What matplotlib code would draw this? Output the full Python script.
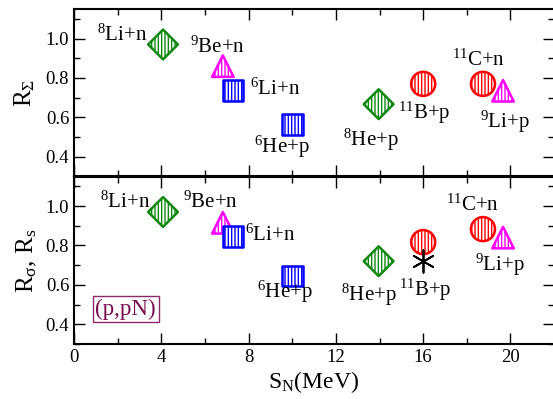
import matplotlib
matplotlib.use("Agg")
import matplotlib.pyplot as plt
from matplotlib.ticker import MultipleLocator

plt.rcParams["font.family"] = ["Liberation Serif", "DejaVu Serif"]
plt.rcParams["mathtext.fontset"] = "custom"
plt.rcParams["mathtext.rm"] = "Liberation Serif"
plt.rcParams["mathtext.it"] = "Liberation Serif:italic"
plt.rcParams["mathtext.default"] = "rm"

# data: separation energy S_N (MeV) and ratios
reactions = ["8Li+n", "9Be+n", "6Li+n", "6He+p", "8He+p", "11B+p", "11C+n", "9Li+p"]
labels = [r"$^{8}$Li+n", r"$^{9}$Be+n", r"$^{6}$Li+n", r"$^{6}$He+p",
          r"$^{8}$He+p", r"$^{11}$B+p", r"$^{11}$C+n", r"$^{9}$Li+p"]
s_n = [4.08, 6.82, 7.28, 10.0, 13.96, 16.0, 18.74, 19.66]
r_sigma_top = [0.97, 0.86, 0.735, 0.565, 0.667, 0.77, 0.77, 0.735]
r_sigma_bot = [0.97, 0.915, 0.845, 0.646, 0.72, 0.817, 0.883, 0.84]
r_s_x = [16.0]
r_s = [0.72]

# styles
green = "#118811"
blue = "#0000ff"
magenta = "#ff00ff"
red = "#ff0000"
marker_style = {
    "8Li+n": ("D", green, 230),
    "9Be+n": ("^", magenta, 240),
    "6Li+n": ("s", blue, 220),
    "6He+p": ("s", blue, 220),
    "8He+p": ("D", green, 230),
    "11B+p": ("o", red, 300),
    "11C+n": ("o", red, 300),
    "9Li+p": ("^", magenta, 240),
}

# label positions (data coords), left/center aligned
pos_top = [(1.05, 1.017), (5.33, 0.956), (8.05, 0.743), (8.23, 0.45),
           (12.31, 0.485), (14.84, 0.622), (17.33, 0.89), (18.62, 0.576)]
pos_bot = [(1.2, 1.022), (5.01, 1.022), (7.82, 0.853), (8.37, 0.563),
           (12.23, 0.548), (14.9, 0.574), (17.06, 1.005), (18.39, 0.70)]

fig = plt.figure(figsize=(5.53, 3.99), dpi=100)
ax1 = fig.add_axes([74 / 553, 1 - 176.5 / 399, 1.002 - 74 / 553, 167.5 / 399])
ax2 = fig.add_axes([74 / 553, 1 - 344 / 399, 1.002 - 74 / 553, 167.5 / 399], sharex=ax1)


def draw_panel(ax, yvals, positions):
    for name, lab, x, y, (tx, ty) in zip(reactions, labels, s_n, yvals, positions):
        m, c, size = marker_style[name]
        with plt.rc_context({"hatch.color": c, "hatch.linewidth": 1.0}):
            ax.scatter([x], [y], marker=m, s=size, facecolor="white",
                       edgecolor=c, linewidth=1.8, hatch="|||||", zorder=3)
        ax.text(tx, ty, lab, fontsize=15, ha="left", va="center")


draw_panel(ax1, r_sigma_top, pos_top)
draw_panel(ax2, r_sigma_bot, pos_bot)
ax2.scatter(r_s_x, r_s, marker=(6, 2, 0), s=260, color="black", linewidth=1.3, zorder=4)

ax2.text(2.37, 0.477, "(p,pN)", fontsize=16.5, color="#7a0a4e", ha="center", va="center",
         bbox=dict(boxstyle="square,pad=0.12", facecolor="white", edgecolor="#8a2a6a", linewidth=1.0))

for ax in (ax1, ax2):
    ax.set_xlim(0, 22)
    ax.set_ylim(0.3, 1.15)
    ax.xaxis.set_major_locator(MultipleLocator(4))
    ax.xaxis.set_minor_locator(MultipleLocator(2))
    ax.yaxis.set_major_locator(MultipleLocator(0.2))
    ax.yaxis.set_minor_locator(MultipleLocator(0.1))
    ax.tick_params(which="both", direction="in", top=True, right=True, labelsize=13.5, width=1.0)
    ax.tick_params(which="major", length=8)
    ax.tick_params(which="minor", length=4)
    for sp in ax.spines.values():
        sp.set_linewidth(1.5)
    ax.yaxis.set_major_formatter(plt.FuncFormatter(lambda v, p: f"{v:.1f}"))

ax1.tick_params(labelbottom=False)
ax1.set_ylabel(r"R$_\Sigma$", fontsize=18, labelpad=6)
ax2.set_ylabel(r"R$_\sigma$, R$_s$", fontsize=18, labelpad=5)
ax2.set_xlabel(r"S$_\mathrm{N}$(MeV)", fontsize=17, labelpad=2)

fig.savefig("out.png", dpi=100)
